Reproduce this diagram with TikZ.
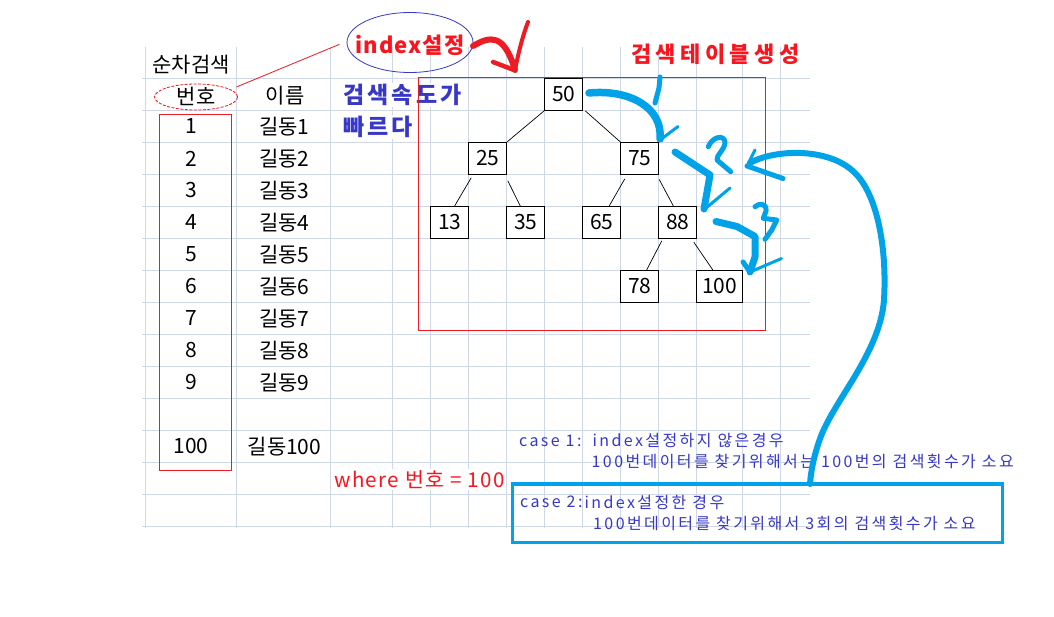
\documentclass[tikz,border=0pt]{standalone}
\usepackage{fontspec}
\setmainfont{Noto Sans CJK KR}
\usetikzlibrary{shapes.geometric,calc}
\definecolor{gridc}{RGB}{208,215,229}
\definecolor{pred}{RGB}{237,28,36}
\definecolor{pblue}{RGB}{0,162,232}
\definecolor{tblue}{RGB}{55,55,200}
\definecolor{tred}{RGB}{250,20,30}
\begin{document}
\begin{tikzpicture}[x=1pt,y=-1pt,
  gridline/.style={draw=gridc, line width=1pt},
  tbl/.style={font=\fontsize{21}{23}\selectfont, inner sep=0pt},
  tnode/.style={draw=black, line width=1pt, minimum width=38pt, minimum height=32pt, inner sep=0pt, fill=white, font=\fontsize{21}{23}\selectfont},
  tedge/.style={draw=black, line width=0.7pt},
  bluebold/.style={text=tblue, font=\fontsize{23}{25}\selectfont\bfseries\addfontfeature{LetterSpace=14}, inner sep=1pt, fill=white, anchor=west},
  redbold/.style={text=tred, font=\fontsize{22}{24}\selectfont\bfseries\addfontfeature{LetterSpace=5}, inner sep=0pt},
  wheretxt/.style={text=tred, font=\fontsize{20.5}{22}\selectfont\addfontfeature{LetterSpace=7}, inner sep=1pt, fill=white, anchor=west},
  casetxt/.style={text=tblue, font=\fontsize{16}{18}\selectfont\addfontfeature{LetterSpace=15}, inner sep=0pt, anchor=west},
  hand/.style={line cap=round, line join=round}
]
\useasboundingbox[fill=white] (0,0) rectangle (1054,616);

% spreadsheet grid
\foreach \x in {145.7,236.7,330.3,392.3,430.7,468.7,506.7,544.7,582.7,620.7,658.7,696.7,742.3,780.7}
  \draw[gridline] (\x,47) -- (\x,528);
\foreach \k in {0,...,14}
  \draw[gridline] (142,{78.3+32*\k}) -- (810,{78.3+32*\k});

% table
\node[tbl] (title) at (191,65) {순차검색};
\node[tbl] (hno) at (196,96) {번호};
\node[tbl] (hnm) at (285,96) {이름};
\foreach \i in {1,...,9} {
  \node[tbl] (no\i) at (191,{94.5+32*\i}) {\i};
  \node[tbl] (nm\i) at (284.5,{94.5+32*\i}) {길동\i};
}
\node[tbl] (no100) at (191,446.5) {100};
\node[tbl] (nm100) at (284.5,446.5) {길동100};

\node[bluebold] (spd1) at (342,95) {검색속도가};
\node[bluebold] (spd2) at (342,127) {빠르다};
\node[wheretxt] (wh) at (333,479.5) {where 번호 = 100};

% boxes
\draw[pred, line width=1pt] (159.7,114.3) rectangle (231.3,470);
\draw[pred, line width=1pt] (418.3,77.7) rectangle (765.7,330);

% ellipses
\node[draw=pred, ellipse, dash pattern=on 3pt off 1.5pt, line width=0.8pt, minimum width=83pt, minimum height=26pt] (hnoe) at (196,97) {};
\node[draw=tblue, ellipse, line width=0.8pt, minimum width=126pt, minimum height=60pt] (idxe) at (410,42.5) {};
\node[redbold] (idx) at (410,45) {index설정};
\coordinate (lend) at (339.5,44.3);
\draw[pred, line width=0.8pt] ($(hnoe.east)+(-1.5,-10)$) -- (lend);

\node[redbold, anchor=west, font=\fontsize{22}{24}\selectfont\bfseries\addfontfeature{LetterSpace=20}] (tbltitle) at (631,54) {검색테이블생성};

% tree
\node[tnode] (n50) at (563.7,94.3) {50};
\node[tnode] (n25) at (487.7,158.3) {25};
\node[tnode] (n75) at (639.7,158.3) {75};
\node[tnode] (n13) at (449.7,222.3) {13};
\node[tnode] (n35) at (525.7,222.3) {35};
\node[tnode] (n65) at (601.7,222.3) {65};
\node[tnode] (n88) at (677.7,222.3) {88};
\node[tnode] (n78) at (639.7,286.3) {78};
\node[tnode, minimum width=45.6pt] (n100) at (719.5,286.3) {100};

\draw[tedge] (n50.south west) -- (n25.north east);
\draw[tedge] ($(n50.south east)+(2,0)$) -- (n75.north west);
\draw[tedge] ($(n25.south west)+(3,3)$) -- ($(n13.north)+(5,0)$);
\draw[tedge] ($(n25.south east)+(0.6,6)$) -- ($(n35.north)+(-5,1)$);
\draw[tedge] ($(n75.south west)+(4.6,4)$) -- ($(n65.north)+(7.6,0)$);
\draw[tedge] ($(n75.south east)+(0,4.7)$) -- ($(n88.north)+(-4.4,0)$);
\draw[tedge] ($(n88.south west)+(3.6,2)$) -- ($(n78.north)+(7,0)$);
\draw[tedge] ($(n88.south east)+(-3.4,3.4)$) -- ($(n100.north)+(-6.8,0)$);

% case texts
\node[casetxt] (c1a) at (519,441) {case 1:};
\node[casetxt] (c1b) at (592.5,441) {index설정하지 않은경우};
\node[casetxt] (c1c) at (591.5,461) {100번데이터를 찾기위해서는 100번의 검색횟수가 소요};
\node[casetxt] (c2a) at (520,502) {case 2:};
\node[casetxt] (c2b) at (584.5,502) {index설정한 경우};
\node[casetxt] (c2c) at (593,523) {100번데이터를 찾기위해서 3회의 검색횟수가 소요};

\draw[pblue, line width=3.2pt] (512.5,484) rectangle (1002.5,542.5);

% red check stroke
\draw[pred, line width=6pt, hand] (473,46) .. controls (490,36) and (504,33) .. (515,70);
\draw[pred, line width=4pt, hand] (515,70) .. controls (519,50) and (523,35) .. (528,22);
\draw[pred, line width=4.5pt, hand] (493,62) -- (514,70);

% blue strokes: step 1
\draw[pblue, line width=7.5pt, hand] (589,93) .. controls (630,89) and (663,108) .. (660,139);
\draw[pblue, line width=3pt, hand] (660,140) -- (678,126.5);
\draw[pblue, line width=5pt, hand] (660,77) -- (659,88) -- (655,103);
% step 2
\draw[pblue, line width=7pt, hand] (675,152) -- (710,175) -- (704,209);
\draw[pblue, line width=3pt, hand] (706,208) -- (730,188);
\draw[pblue, line width=5pt, hand] (708.3,146.7) .. controls (712,137) and (724,134) .. (725,142) .. controls (725,150) and (716,155) .. (717,160) -- (730.7,171.7);
% step 3
\draw[pblue, line width=7pt, hand] (716,221.5) -- (737,226.5) -- (755,236.5) -- (755,257) -- (750,272);
\draw[pblue, line width=5pt, hand] (743,262) -- (750,272);
\draw[pblue, line width=3pt, hand] (750,272) -- (781.5,258.5);
\draw[pblue, line width=5pt, hand] (755,206.7) .. controls (759,203) and (767,203) .. (766,211) -- (763.3,218.3) -- (776.7,220) -- (771.7,230) -- (765,239.3);
% big return curve
\draw[pblue, line width=6pt, hand] (750,163) .. controls (772,150) and (828,146) .. (855,173)
  .. controls (878,196) and (887,250) .. (884,300)
  .. controls (880,352) and (836,398) .. (821,436)
  .. controls (814,455) and (811,470) .. (810,484);
\draw[pblue, line width=3pt, hand] (747,166) -- (755,150);
\draw[pblue, line width=5pt, hand] (747,166) -- (783,178.5);
\end{tikzpicture}
\end{document}
